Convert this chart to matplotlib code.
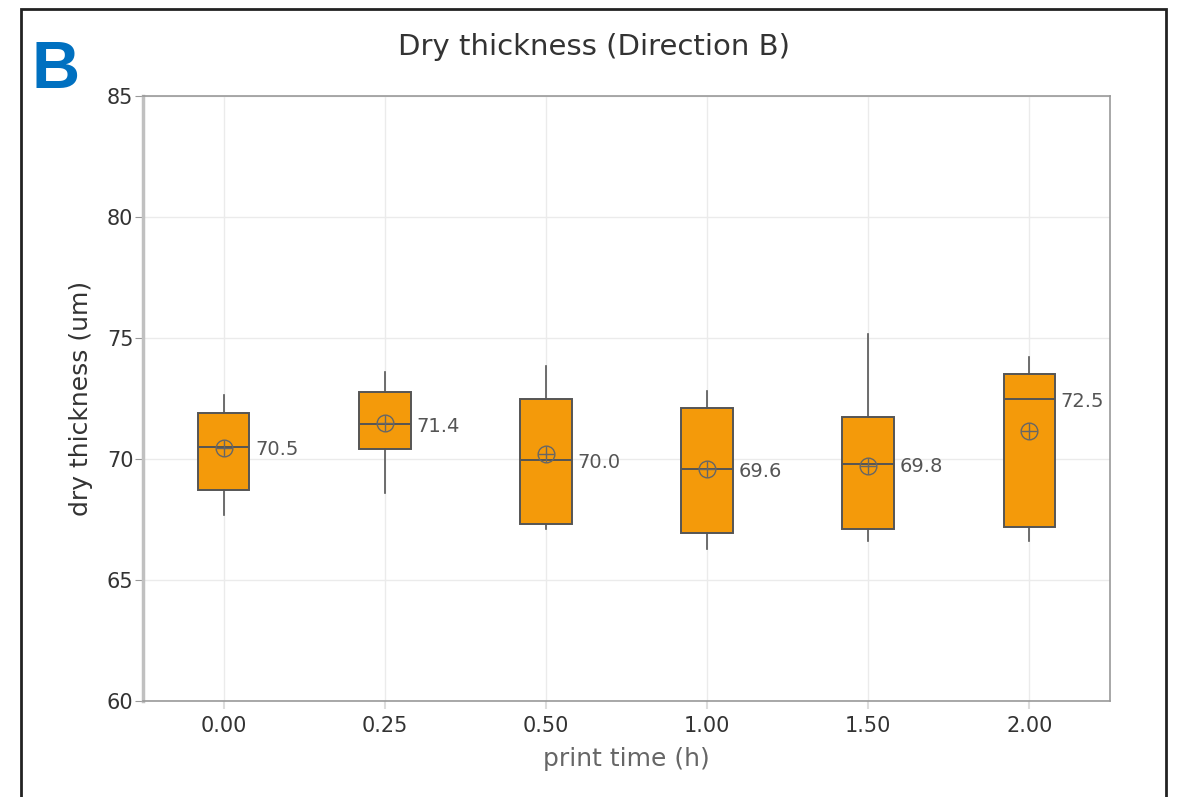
import matplotlib
matplotlib.use("Agg")
import matplotlib.pyplot as plt
from matplotlib.patches import Rectangle

plt.rcParams['font.family'] = ['DejaVu Sans']

categories = ["0.00", "0.25", "0.50", "1.00", "1.50", "2.00"]
whisker_low = [67.7, 68.6, 67.1, 66.3, 66.6, 66.6]
q1 = [68.7, 70.4, 67.3, 66.95, 67.1, 67.2]
median = [70.5, 71.45, 69.95, 69.6, 69.8, 72.5]
q3 = [71.9, 72.75, 72.5, 72.1, 71.75, 73.5]
whisker_high = [72.65, 73.6, 73.85, 72.8, 75.15, 74.2]
means = [70.45, 71.5, 70.2, 69.6, 69.7, 71.15]
median_labels = ["70.5", "71.4", "70.0", "69.6", "69.8", "72.5"]

W, H = 1183, 797
fig = plt.figure(figsize=(W / 100, H / 100), dpi=100)
ax = fig.add_axes([143 / W, 1 - 701 / H, (1110 - 143) / W, (701 - 96) / H])

stats = []
for i, c in enumerate(categories):
    stats.append(dict(whislo=whisker_low[i], q1=q1[i], med=median[i], q3=q3[i],
                      whishi=whisker_high[i], mean=means[i], fliers=[], label=c))

pos = list(range(len(categories)))
edge = "#555555"
ax.bxp(stats, positions=pos, widths=0.32, patch_artist=True, showcaps=False,
       showmeans=False, showfliers=False,
       boxprops=dict(facecolor="#F49A0A", edgecolor=edge, linewidth=1.4),
       medianprops=dict(color=edge, linewidth=1.4),
       whiskerprops=dict(color=edge, linewidth=1.2), zorder=3)

ax.plot(pos, means, linestyle="none", marker="o", markersize=12, markerfacecolor="none",
        markeredgecolor="#666666", markeredgewidth=1.0, zorder=4)
ax.plot(pos, means, linestyle="none", marker="+", markersize=12,
        markeredgecolor="#666666", markeredgewidth=1.0, zorder=4)

for i, lab in enumerate(median_labels):
    ax.annotate(lab, (pos[i] + 0.16, median[i]), xytext=(4, -2), textcoords="offset points",
                ha="left", va="center", fontsize=14, color="#555555", zorder=5)

ax.set_xlim(-0.5, 5.5)
ax.set_ylim(60, 85)
ax.set_yticks([60, 65, 70, 75, 80, 85])
ax.set_xticks(pos)
ax.set_xticklabels(categories)
ax.grid(True, color="#ebebeb", linewidth=1.0, zorder=0)
ax.set_axisbelow(True)

for s in ["top", "right", "bottom"]:
    ax.spines[s].set_color("#999999")
    ax.spines[s].set_linewidth(1.2)
ax.spines["left"].set_color("#c0c0c0")
ax.spines["left"].set_linewidth(2.5)

ax.tick_params(axis="y", length=6, color="#999999", labelsize=15, labelcolor="#333333", pad=1)
ax.tick_params(axis="x", length=6, color="#dddddd", width=1.5, labelsize=15, labelcolor="#333333", pad=5)

ax.set_ylabel("dry thickness (um)", fontsize=18, color="#333333", labelpad=10)
ax.set_xlabel("print time (h)", fontsize=18, color="#666666", labelpad=8)

fig.text(594 / W, 1 - 47 / H, "Dry thickness (Direction B)", ha="center", va="center",
         fontsize=21, color="#333333")
fig.text(32 / W, 1 - 71 / H, "B", ha="left", va="center", fontsize=48, fontweight="bold",
         color="#0070C0", family="Liberation Sans")

fig.add_artist(Rectangle((21 / W, -0.02), (1166 - 21) / W, 1.02 - 9 / H,
                         transform=fig.transFigure, fill=False, edgecolor="#222222",
                         linewidth=2.0))

fig.savefig("out.png", dpi=100, facecolor="white")
